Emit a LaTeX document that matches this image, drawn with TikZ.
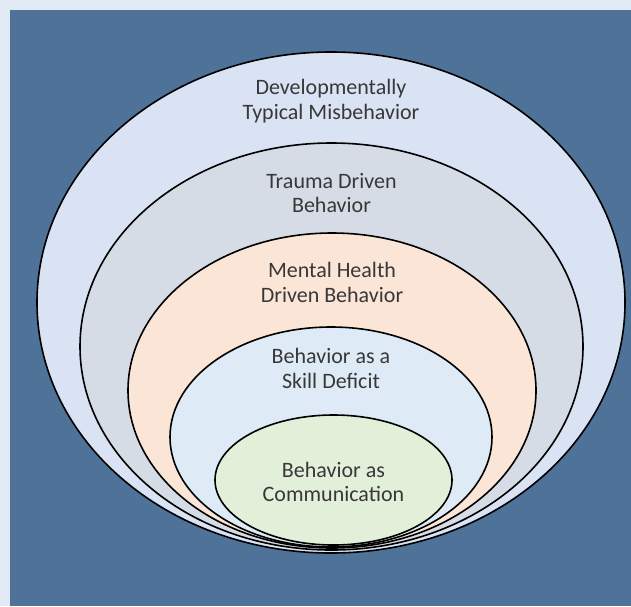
\documentclass[tikz,border=0pt]{standalone}
\usepackage{fontspec}
\setmainfont{Carlito}
\usepackage{tikz}
\usetikzlibrary{shapes.geometric,positioning,calc}
\definecolor{frame}{HTML}{E0E9F4}
\definecolor{backblue}{HTML}{4E7298}
\definecolor{ringtypical}{HTML}{DAE3F3}
\definecolor{ringtrauma}{HTML}{D6DCE5}
\definecolor{ringmental}{HTML}{FBE5D6}
\definecolor{ringskill}{HTML}{DEEBF7}
\definecolor{ringcomm}{HTML}{E2F0D9}
\definecolor{textgray}{HTML}{383838}

\tikzset{
    ring/.style={ellipse, draw=black, line width=1.6pt, inner sep=0pt},
    lbl/.style={align=center, inner sep=0pt, text=textgray,
                font=\fontsize{22}{24.5}\selectfont}
}

\begin{document}
\begin{tikzpicture}[x=1pt, y=-1pt]
    % frame and backdrop
    \fill[frame] (0,0) rectangle (631,606);
    \fill[backblue] (10,10) rectangle (631,606);
    \useasboundingbox (0,0) rectangle (631,606);

    % nested rings, outermost first
    \node[ring, fill=ringtypical, minimum width=588pt, minimum height=501pt] (typical) at (331,302.5) {};
    \node[ring, fill=ringtrauma,  minimum width=503pt, minimum height=407pt] (trauma)  at (331.5,346.5) {};
    \node[ring, fill=ringmental,  minimum width=408pt, minimum height=315pt] (mental)  at (332,390.5) {};
    \node[ring, fill=ringskill,   minimum width=322pt, minimum height=220pt] (skill)   at (331,437) {};
    \node[ring, fill=ringcomm,    minimum width=237pt, minimum height=130pt] (comm)    at (333.5,480) {};

    % labels
    \node[lbl] (typicaltxt) at ($(typical.north)+(0,50)$) {Developmentally\\Typical Misbehavior};
    \node[lbl] (traumatxt)  at ($(trauma.north)+(0,51)$)  {Trauma Driven\\Behavior};
    \node[lbl] (mentaltxt)  at ($(mental.north)+(0,50)$)  {Mental Health\\Driven Behavior};
    \node[lbl] (skilltxt)   at ($(skill.north)+(0,42)$)   {Behavior as a\\Skill Deficit};
    \node[lbl] (commtxt)    at ($(comm.center)+(0,2)$)    {Behavior as\\Communication};
\end{tikzpicture}
\end{document}
